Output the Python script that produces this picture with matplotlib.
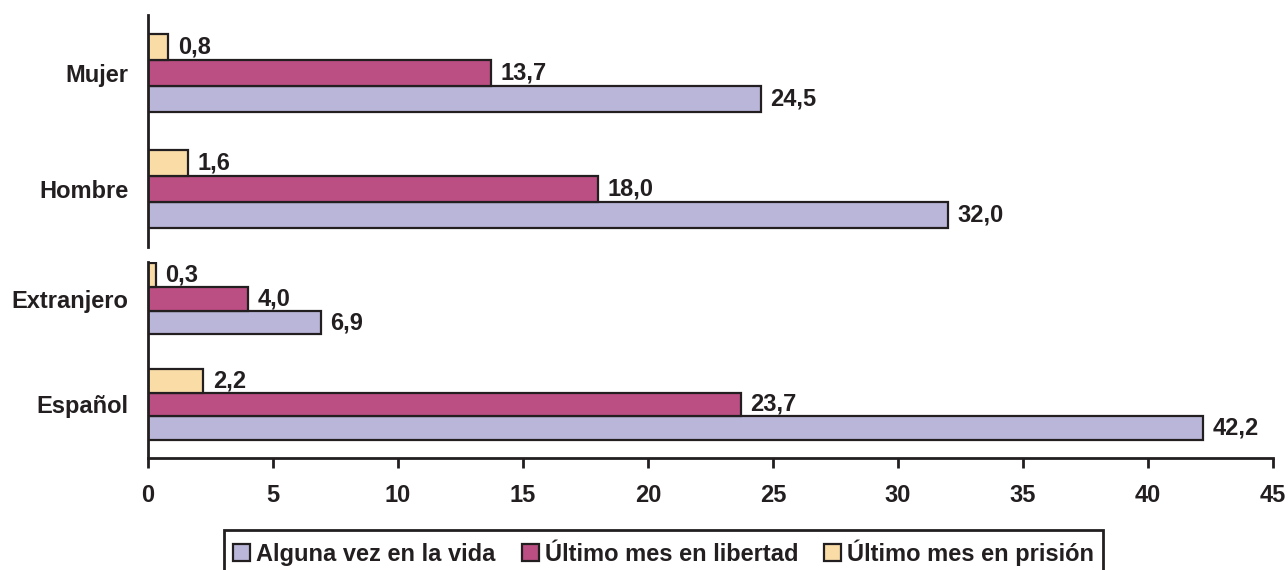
import matplotlib
matplotlib.use("Agg")
import matplotlib.pyplot as plt
import numpy as np

# categories, grouped in two panels (bottom to top)
top_groups = ["Hombre", "Mujer"]
bottom_groups = ["Español", "Extranjero"]

series_names = ["Alguna vez en la vida", "Último mes en libertad", "Último mes en prisión"]
series_colors = ["#B9B6DA", "#BB4F83", "#F9DCA6"]

# values per series, same order as the group lists
vida_top = [32.0, 24.5]
libertad_top = [18.0, 13.7]
prision_top = [1.6, 0.8]

vida_bottom = [42.2, 6.9]
libertad_bottom = [23.7, 4.0]
prision_bottom = [2.2, 0.3]

xticks = [0, 5, 10, 15, 20, 25, 30, 35, 40, 45]

TEXT = "#231F20"
FS = 17
W, H = 1288, 570
plt.rcParams["font.family"] = ["Liberation Sans", "DejaVu Sans"]
plt.rcParams["font.weight"] = "bold"

fig = plt.figure(figsize=(W / 100, H / 100), dpi=100)


def px_axes(left, top, right, bottom):
    return fig.add_axes([left / W, (H - bottom) / H, (right - left) / W, (bottom - top) / H])


def draw_panel(ax, groups, series, ylim):
    y = np.arange(len(groups))
    h = 0.224
    offsets = [-h, 0, h]
    for vals, color, off, name in zip(series, series_colors, offsets, series_names):
        bars = ax.barh(y + off, vals, height=h, color=color, edgecolor="#231F20",
                       linewidth=1.6, label=name)
        for bar, v in zip(bars, vals):
            ax.annotate(f"{v:.1f}".replace(".", ","),
                        (bar.get_width(), bar.get_y() + bar.get_height() / 2),
                        xytext=(7, 0), textcoords="offset points",
                        ha="left", va="center", fontsize=FS, fontweight="bold", color=TEXT)
    ax.set_xlim(0, 45)
    ax.set_ylim(*ylim)
    ax.set_yticks(y)
    ax.set_yticklabels(groups, fontsize=FS, fontweight="bold", color=TEXT)
    ax.tick_params(axis="y", length=0, pad=14)
    for side in ["top", "right"]:
        ax.spines[side].set_visible(False)
    ax.spines["left"].set_linewidth(2)
    ax.spines["left"].set_color("#231F20")


ax_top = px_axes(148, 15, 1273, 247)
draw_panel(ax_top, top_groups, [vida_top, libertad_top, prision_top], (-0.5, 1.5))
ax_top.spines["bottom"].set_visible(False)
ax_top.set_xticks([])

ax_bot = px_axes(148, 262, 1273, 458)
draw_panel(ax_bot, bottom_groups, [vida_bottom, libertad_bottom, prision_bottom], (-0.507, 1.35))
ax_bot.spines["bottom"].set_linewidth(2)
ax_bot.spines["bottom"].set_color("#231F20")
ax_bot.set_xticks(xticks)
ax_bot.set_xticklabels([str(t) for t in xticks], fontsize=FS, fontweight="bold", color=TEXT)
ax_bot.tick_params(axis="x", direction="out", length=7, width=2, color="#231F20", pad=12)

handles, labels = ax_bot.get_legend_handles_labels()
leg = fig.legend(handles, labels, loc="upper left", bbox_to_anchor=(224 / W, 1 - 530 / H),
                 ncol=3, frameon=True, fancybox=False, framealpha=1, fontsize=FS,
                 handlelength=0.72, handleheight=0.72, handletextpad=0.25,
                 columnspacing=1.1, borderpad=0.4, borderaxespad=0)
leg.get_frame().set_edgecolor("#231F20")
leg.get_frame().set_linewidth(2)
for t in leg.get_texts():
    t.set_color(TEXT)
    t.set_fontweight("bold")

fig.savefig("out.png", dpi=100)
